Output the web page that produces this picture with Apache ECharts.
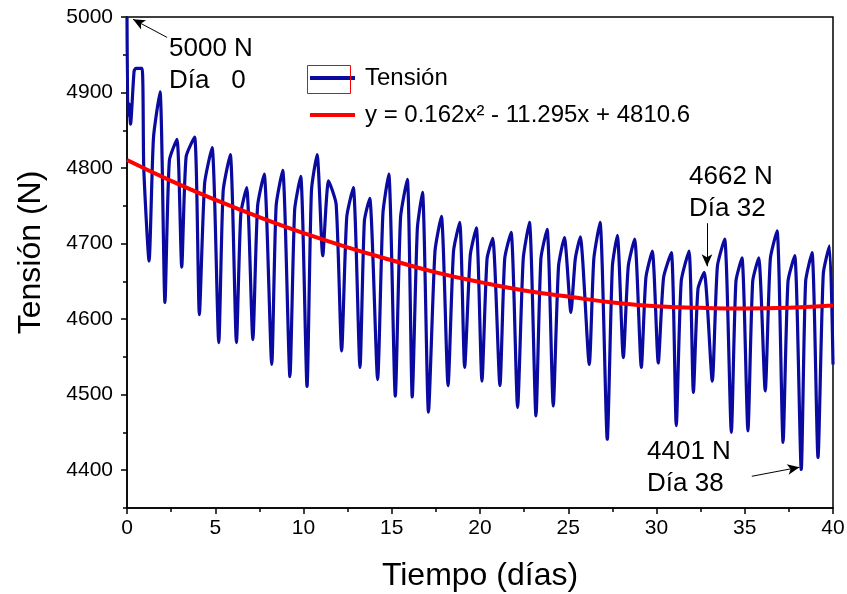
<!DOCTYPE html>
<html>
<head>
<meta charset="utf-8">
<script src="https://cdn.jsdelivr.net/npm/echarts@6/dist/echarts.min.js"></script>
<style>
html,body{margin:0;padding:0;background:#fff;}
#c{width:847px;height:594px;}
</style>
</head>
<body>
<div id="c"></div>
<script>
const days = [0,0.05,0.12,0.2,0.4,0.5,0.85,0.95,
1.25,1.5,1.87,
2.15,2.4,2.83,
3.1,3.35,3.83,
4.1,4.4,4.82,
5.2,5.45,5.85,
6.2,6.45,6.78,
7.13,7.4,7.77,
8.2,8.45,8.82,
9.23,9.5,9.84,
10.2,10.45,10.77,11.09,11.42,11.85,
12.16,12.45,12.82,
13.2,13.45,13.75,
14.2,14.5,14.83,
15.2,15.5,15.88,
16.16,16.45,16.74,
17.08,17.45,17.81,
18.19,18.5,18.85,
19.13,19.45,19.79,
20.11,20.4,20.72,
21.13,21.4,21.76,
22.13,22.45,22.8,
23.17,23.45,23.8,
24.15,24.45,24.78,25.15,25.4,25.68,
26.19,26.45,26.8,
27.21,27.5,27.78,
28.12,28.4,28.76,
29.14,29.4,29.76,
30.1,30.4,30.84,
31.12,31.4,31.84,
32.09,32.35,32.7,
33.16,33.45,33.86,
34.24,34.5,34.84,
35.18,35.45,35.79,
36.16,36.45,36.83,
37.17,37.45,37.83,
38.2,38.45,38.81,
39.15,39.45,39.8,
40];
const tension = [5000,4870,4885,4858,4928,4932,4932,4800,
4677,4840,4901,
4622,4810,4838,
4669,4815,4841,
4606,4780,4827,
4569,4770,4818,
4569,4740,4774,
4573,4750,4792,
4540,4750,4797,
4524,4745,4789,
4511,4770,4818,4684,4783,4752,
4558,4735,4774,
4536,4730,4760,
4520,4740,4792,
4498,4735,4785,
4497,4720,4768,
4477,4690,4736,
4512,4690,4728,
4536,4685,4721,
4518,4680,4707,
4512,4680,4715,
4483,4680,4728,
4472,4680,4719,
4485,4670,4708,4609,4680,4709,
4540,4680,4728,
4441,4670,4711,
4549,4670,4706,
4536,4655,4690,
4542,4655,4688,
4459,4650,4690,
4503,4640,4662,
4518,4670,4706,
4450,4650,4681,
4452,4650,4681,
4505,4680,4717,
4437,4650,4684,
4401,4650,4688,
4417,4660,4697,
4540];
// Quadratic fit curve values read at regular days
const fitDays = [0,2.5,5,7.5,10,12.5,15,17.5,20,22.5,25,27.5,30,32.5,35,37.5,40];
const fitVals = [4810.6,4783,4758,4735,4714,4695,4678,4662,4649,4638,4630,4622,4617,4615,4614,4615,4618];
const yLabels = [4400,4500,4600,4700,4800,4900,5000];
const yMinor = [4350,4450,4550,4650,4750,4850,4950];
const seriesNames = ['Tensión', 'y = 0.162x\u00B2 - 11.295x + 4810.6'];

const chart = echarts.init(document.getElementById('c'));
const font = 'Liberation Sans, Arial, sans-serif';
chart.setOption({
  animation: false,
  backgroundColor: '#fff',
  grid: {left: 127, right: 14, top: 17, bottom: 86, show: true, borderColor: '#000', borderWidth: 1.5, outerBoundsMode: 'none', containLabel: false},
  legend: {
    left: 305, top: 61, orient: 'vertical', itemWidth: 45, itemHeight: 4, itemGap: 13,
    textStyle: {fontFamily: font, fontSize: 24, color: '#000', padding: [0,0,0,5]},
    data: [{name: seriesNames[0], icon: 'rect'}, {name: seriesNames[1], icon: 'rect'}]
  },
  xAxis: {
    type: 'value', min: 0, max: 40, interval: 5,
    axisLine: {lineStyle: {color: '#000', width: 1.5}},
    axisTick: {length: 6, lineStyle: {color: '#000', width: 1.5}},
    minorTick: {show: true, splitNumber: 2, length: 4, lineStyle: {color: '#000', width: 1.5}},
    splitLine: {show: false},
    axisLabel: {fontFamily: font, fontSize: 21, color: '#000', margin: 10},
    name: 'Tiempo (días)', nameLocation: 'middle', nameGap: 52,
    nameTextStyle: {fontFamily: font, fontSize: 32, color: '#000'}
  },
  yAxis: [{
    type: 'value', min: 4350, max: 5000, interval: 50,
    axisLine: {show: true, lineStyle: {color: '#000', width: 1.5}},
    axisTick: {show: true, length: 6, customValues: yLabels, lineStyle: {color: '#000', width: 1.5}},
    splitLine: {show: false},
    axisLabel: {fontFamily: font, fontSize: 21, color: '#000', margin: 14, customValues: yLabels, formatter: v => String(v)},
    name: 'Tensión (N)', nameLocation: 'middle', nameGap: 80,
    nameTextStyle: {fontFamily: font, fontSize: 32, color: '#000', padding: [0, 0, 0, 20]}
  }, {
    type: 'value', min: 4350, max: 5000, interval: 50, position: 'left',
    axisLine: {show: false},
    axisTick: {show: true, length: 4, customValues: yMinor, lineStyle: {color: '#000', width: 1.5}},
    axisLabel: {show: false},
    splitLine: {show: false}
  }],
  series: [{
    name: seriesNames[0], type: 'line', symbol: 'none', smooth: 0.2,
    lineStyle: {color: '#0a0aa0', width: 3.2}, itemStyle: {color: '#0a0aa0'},
    data: days.map((d, i) => [d, tension[i]]),
    z: 3
  }, {
    name: seriesNames[1], type: 'line', symbol: 'none', smooth: true,
    lineStyle: {color: '#ff0000', width: 4}, itemStyle: {color: '#ff0000'},
    data: fitDays.map((d, i) => [d, fitVals[i]]),
    z: 4
  }, {
    name: 'arrows', type: 'line', data: [], silent: true,
    markLine: {
      symbol: ['none', 'arrow'], symbolSize: [8, 12], silent: true, animation: false,
      label: {show: false},
      lineStyle: {color: '#000', width: 1, type: 'solid'},
      data: [
        [{coord: [2.27, 4973]}, {coord: [0.34, 4997]}],
        [{coord: [32.86, 4727]}, {coord: [32.86, 4670]}],
        [{coord: [35.4, 4392]}, {coord: [38.1, 4404]}]
      ]
    }
  }],
  graphic: [
    {type: 'rect', left: 305, top: 63, shape: {width: 43, height: 28}, style: {fill: 'none', stroke: '#ff0000', lineWidth: 1}, z: 100},
    {type: 'text', left: 169, top: 33, style: {text: '5000 N\nDía   0', fontFamily: font, fontSize: 26, lineHeight: 32, fill: '#000'}},
    {type: 'text', left: 689, top: 161, style: {text: '4662 N\nDía 32', fontFamily: font, fontSize: 26, lineHeight: 32, fill: '#000'}},
    {type: 'text', left: 647, top: 436, style: {text: '4401 N\nDía 38', fontFamily: font, fontSize: 26, lineHeight: 32, fill: '#000'}}
  ]
});
</script>
</body>
</html>
